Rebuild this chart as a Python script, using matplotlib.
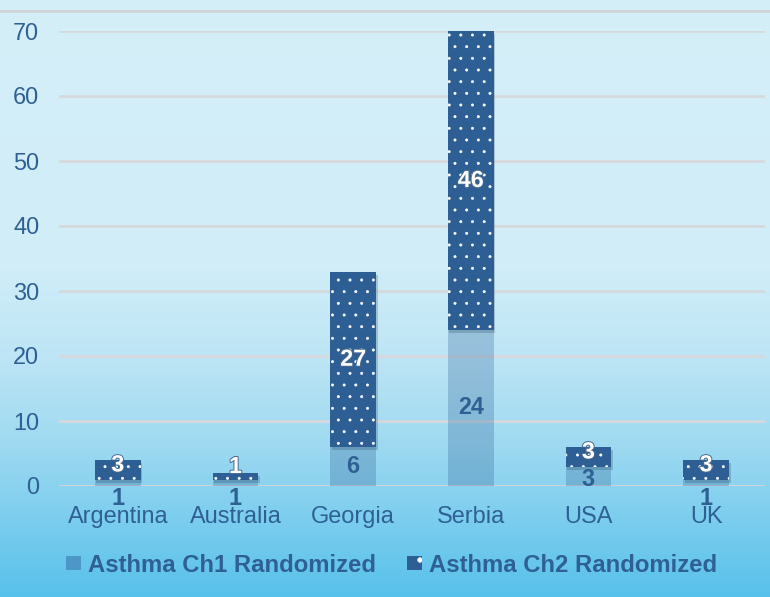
import numpy as np
import matplotlib
matplotlib.use("Agg")
import matplotlib.pyplot as plt
from matplotlib import patheffects as pe
from matplotlib.colors import LinearSegmentedColormap
from matplotlib.patches import Rectangle
from matplotlib.lines import Line2D

categories = ["Argentina", "Australia", "Georgia", "Serbia", "USA", "UK"]
ch1 = [1, 1, 6, 24, 3, 1]
ch2 = [3, 1, 27, 46, 3, 3]
series_names = ["Asthma Ch1 Randomized", "Asthma Ch2 Randomized"]
yticks = [0, 10, 20, 30, 40, 50, 60, 70]

plt.rcParams['font.family'] = ['Liberation Sans', 'DejaVu Sans']
plt.rcParams['hatch.color'] = 'white'
plt.rcParams['hatch.linewidth'] = 0.3

DPI = 140
fig = plt.figure(figsize=(770 / DPI, 597 / DPI), dpi=DPI)

# background gradient
bg = fig.add_axes([0, 0, 1, 1], zorder=-10)
cmap = LinearSegmentedColormap.from_list(
    "bg", [(0.0, "#d5eff9"), (0.45, "#d0edf8"), (0.6, "#bde5f5"),
           (0.75, "#9dd9f1"), (1.0, "#58c1eb")])
grad = np.linspace(0, 1, 256).reshape(-1, 1)
bg.imshow(grad, aspect="auto", cmap=cmap, extent=[0, 1, 0, 1], origin="upper")
bg.set_axis_off()
# top border line
fig.add_artist(Line2D([0, 1], [1 - 11 / 597, 1 - 11 / 597], color="#cfd4d8",
                      lw=1.5, transform=fig.transFigure))

ax = fig.add_axes([59 / 770, 1 - 486 / 597, (765 - 59) / 770, (486 - 31) / 597])
ax.patch.set_alpha(0)
ax.set_ylim(0, 70)
ax.set_xlim(-0.5, len(categories) - 0.5)
x = np.arange(len(categories))
width = 0.39

blue = "#2d5f95"
text_blue = "#2f6094"

ax.yaxis.grid(True, color="#d6d9dc", lw=1.4)
ax.set_axisbelow(True)
for s in ax.spines.values():
    s.set_visible(False)
ax.axhline(0, color="#d0d3d6", lw=1.6, zorder=1)

shadow = [pe.SimplePatchShadow(offset=(0.8, -1.6), alpha=0.22, shadow_rgbFace="#1c3550"),
          pe.Normal()]

b1 = ax.bar(x, ch1, width, color=blue, alpha=0.28, linewidth=0, zorder=2)
b2 = ax.bar(x, ch2, width, bottom=ch1, color=blue, linewidth=0, zorder=3,
            path_effects=shadow)
b2h = ax.bar(x, ch2, width, bottom=ch1, color="none", hatch="..", linewidth=0, zorder=4)

ax.set_yticks(yticks)
ax.set_xticks(x)
ax.set_xticklabels(categories)
ax.tick_params(axis="both", length=0, labelsize=12.1, labelcolor=text_blue)
ax.tick_params(axis="x", pad=10.2)
ax.tick_params(axis="y", pad=10.2)

# data labels
for i in range(len(categories)):
    c1 = ch1[i] / 2
    off1 = -8 if ch1[i] <= 1 else (-1.5 if ch1[i] <= 3 else 0)
    ax.annotate(str(ch1[i]), (x[i], c1), xytext=(0, off1), textcoords="offset points",
                ha="center", va="center", fontsize=12, fontweight="bold",
                color=text_blue, zorder=6)
    c2 = ch1[i] + ch2[i] / 2
    off2 = 5 if ch2[i] <= 1 else (2.5 if ch2[i] <= 3 else 0)
    ax.annotate(str(ch2[i]), (x[i], c2), xytext=(0, off2), textcoords="offset points",
                ha="center", va="center", fontsize=12, fontweight="bold",
                color="white", zorder=6,
                path_effects=[pe.withStroke(linewidth=1.0, foreground="#4a6a8e")])

# legend
h1 = Rectangle((0, 0), 1, 1, facecolor="#4d97c8", linewidth=0)
h2 = Rectangle((0, 0), 1, 1, facecolor=blue, hatch=".", linewidth=0)
leg = fig.legend([h1, h2], series_names, loc="center", bbox_to_anchor=(0.509, 1 - 565 / 597),
                 ncol=2, frameon=False, handlelength=0.62, handleheight=0.5,
                 handletextpad=0.3, columnspacing=1.3,
                 prop={"size": 12.3, "weight": "bold"})
for t in leg.get_texts():
    t.set_color(text_blue)

fig.savefig("out.png", dpi=DPI)
